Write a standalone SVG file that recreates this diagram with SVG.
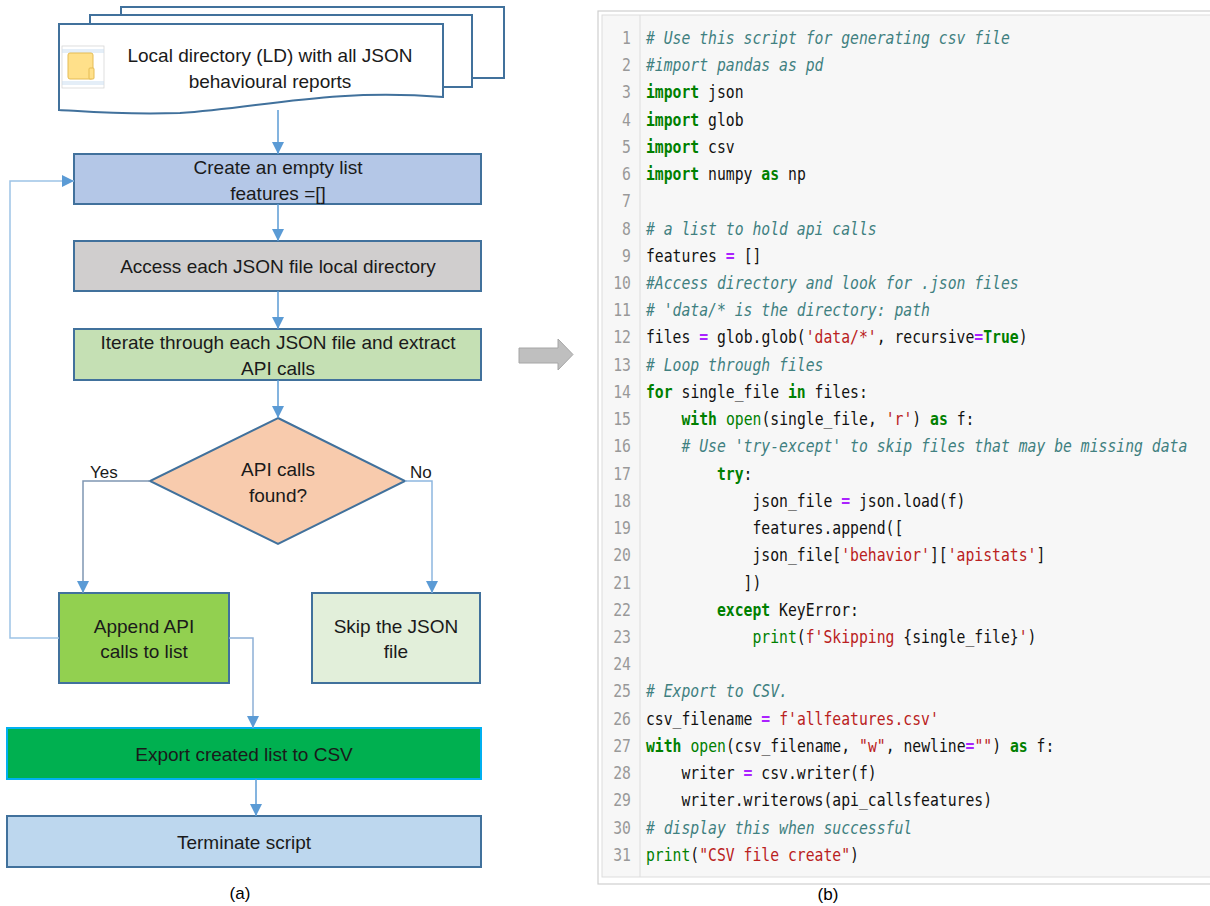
<svg xmlns="http://www.w3.org/2000/svg" width="1210" height="906" viewBox="0 0 1210 906">
<defs>
<style>
.box{stroke:#41719C;stroke-width:2}
.t{font-family:"Liberation Sans",Arial,sans-serif;font-size:19px;fill:#1a1a1a;text-anchor:middle}
.lbl{font-family:"Liberation Sans",Arial,sans-serif;font-size:17px;fill:#1a1a1a}
.cap{font-family:"Liberation Sans",Arial,sans-serif;font-size:17px;fill:#000;text-anchor:middle}
.conn{fill:none;stroke:#5B9BD5;stroke-width:1.5;marker-end:url(#ah)}
.code{font-family:"DejaVu Sans Mono","Liberation Mono",monospace;font-size:18px;fill:#111}
.ln{font-family:"DejaVu Sans Mono","Liberation Mono",monospace;font-size:18px;fill:#999;text-anchor:end}
.c{fill:#408080;font-style:italic}
.k{fill:#008000;font-weight:bold}
.b{fill:#008000}
.s{fill:#BA2121}
.o{fill:#AA22FF;font-weight:bold}
</style>
<marker id="ah" markerUnits="userSpaceOnUse" markerWidth="12" markerHeight="12" refX="12" refY="6" orient="auto">
<path d="M0,0 L12,6 L0,12 Z" fill="#5B9BD5"/>
</marker>
</defs>
<rect width="1210" height="906" fill="#fff"/>

<!-- Flowchart nodes -->
<g id="doc">
<rect x="121" y="7" width="383" height="71" fill="#fff" stroke="#41719C" stroke-width="2"/>
<rect x="90" y="15" width="382" height="72" fill="#fff" stroke="#41719C" stroke-width="2"/>
<path d="M59,24 L443,24 L443,97 C330,88 260,108 180,113 C120,115 80,111 59,110 Z" fill="#fff" stroke="#41719C" stroke-width="2"/>
<rect x="62" y="46" width="42" height="42" fill="#fff" stroke="#D6D6D6" stroke-width="0.8"/>
<path d="M62,50 H104 M62,52 H104 M62,82 H104 M62,84 H104" stroke="#C9DDF0" stroke-width="1"/>
<rect x="68" y="53" width="25" height="26" rx="2" fill="#FFE08A" stroke="#E5BC55" stroke-width="1"/>
<rect x="89" y="68" width="5" height="11" rx="1" fill="#FFE08A" stroke="#E5BC55" stroke-width="1"/>
<text class="t" x="270" y="62">Local directory (LD) with all JSON</text>
<text class="t" x="270" y="88">behavioural reports</text>
</g>
<g id="create">
<rect class="box" x="74" y="154" width="407" height="50" fill="#B4C7E7"/>
<text class="t" x="278" y="174">Create an empty list</text>
<text class="t" x="278" y="200">features =[]</text>
</g>
<g id="access">
<rect class="box" x="74" y="241" width="407" height="50" fill="#D0CECE"/>
<text class="t" x="278" y="273">Access each JSON file local directory</text>
</g>
<g id="iterate">
<rect class="box" x="74" y="329" width="407" height="51" fill="#C5E0B4"/>
<text class="t" x="278" y="349">Iterate through each JSON file and extract</text>
<text class="t" x="278" y="375">API calls</text>
</g>
<g id="decision">
<polygon class="box" points="278,418 405,481 278,544 150,481" fill="#F8CBAD"/>
<text class="t" x="278" y="476">API calls</text>
<text class="t" x="278" y="502">found?</text>
</g>
<g id="append">
<rect class="box" x="59" y="593" width="170" height="90" fill="#92D050"/>
<text class="t" x="144" y="633">Append API</text>
<text class="t" x="144" y="658">calls to list</text>
</g>
<g id="skip">
<rect class="box" x="312" y="593" width="168" height="90" fill="#E2EFDA"/>
<text class="t" x="396" y="633">Skip the JSON</text>
<text class="t" x="396" y="658">file</text>
</g>
<g id="export">
<rect x="7" y="728" width="474" height="51" fill="#00B050" stroke="#00B0F0" stroke-width="2"/>
<text class="t" x="244" y="761">Export created list to CSV</text>
</g>
<g id="terminate">
<rect class="box" x="7" y="816" width="474" height="51" fill="#BDD7EE"/>
<text class="t" x="244" y="849">Terminate script</text>
</g>

<!-- Connectors -->
<g id="connectors">
<path class="conn" d="M278,110 V154"/>
<path class="conn" d="M278,204 V241"/>
<path class="conn" d="M278,291 V329"/>
<path class="conn" d="M278,380 V418"/>
<path class="conn" d="M150,481 H83 V593" style="stroke:#7F96B2"/>
<path class="conn" d="M405,481 H432 V593" style="stroke:#8DB6E0"/>
<path class="conn" d="M59,638 H10 V181 H74" style="stroke:#9DC3E6"/>
<path class="conn" d="M229,638 H253 V728" style="stroke:#8DB0D6"/>
<path class="conn" d="M256,779 V816"/>
</g>
<g id="labels">
<text class="lbl" x="90" y="478">Yes</text>
<text class="lbl" x="410" y="478">No</text>
<text class="cap" x="240" y="899">(a)</text>
<text class="cap" x="828" y="900">(b)</text>
</g>

<!-- Gray arrow between panels -->
<g id="bigarrow">
<path d="M519,348 H558 V339 L573,354.5 L558,370 V363 H519 Z" fill="#BFBFBF" stroke="#A6A6A6" stroke-width="1"/>
</g>

<!-- Code panel -->
<g id="codepanel">
<rect x="598" y="11" width="620" height="873" fill="#fff" stroke="#CFCFCF" stroke-width="1.2"/>
<rect x="602" y="15" width="616" height="862" fill="#F7F7F7" stroke="#DDDDDD" stroke-width="1"/>
<line x1="640" y1="15" x2="640" y2="877" stroke="#DDDDDD" stroke-width="1"/>
<g transform="scale(0.82 1)">
<text class="ln" x="769.5" y="44">1</text>
<text class="ln" x="769.5" y="71.2">2</text>
<text class="ln" x="769.5" y="98.5">3</text>
<text class="ln" x="769.5" y="125.7">4</text>
<text class="ln" x="769.5" y="152.9">5</text>
<text class="ln" x="769.5" y="180.2">6</text>
<text class="ln" x="769.5" y="207.4">7</text>
<text class="ln" x="769.5" y="234.6">8</text>
<text class="ln" x="769.5" y="261.8">9</text>
<text class="ln" x="769.5" y="289.1">10</text>
<text class="ln" x="769.5" y="316.3">11</text>
<text class="ln" x="769.5" y="343.5">12</text>
<text class="ln" x="769.5" y="370.8">13</text>
<text class="ln" x="769.5" y="398.0">14</text>
<text class="ln" x="769.5" y="425.2">15</text>
<text class="ln" x="769.5" y="452.5">16</text>
<text class="ln" x="769.5" y="479.7">17</text>
<text class="ln" x="769.5" y="506.9">18</text>
<text class="ln" x="769.5" y="534.1">19</text>
<text class="ln" x="769.5" y="561.4">20</text>
<text class="ln" x="769.5" y="588.6">21</text>
<text class="ln" x="769.5" y="615.8">22</text>
<text class="ln" x="769.5" y="643.1">23</text>
<text class="ln" x="769.5" y="670.3">24</text>
<text class="ln" x="769.5" y="697.5">25</text>
<text class="ln" x="769.5" y="724.8">26</text>
<text class="ln" x="769.5" y="752.0">27</text>
<text class="ln" x="769.5" y="779.2">28</text>
<text class="ln" x="769.5" y="806.4">29</text>
<text class="ln" x="769.5" y="833.7">30</text>
<text class="ln" x="769.5" y="860.9">31</text>
<text class="code" xml:space="preserve" x="787.8" y="44"><tspan class="c"># Use this script for generating csv file</tspan></text>
<text class="code" xml:space="preserve" x="787.8" y="71.2"><tspan class="c">#import pandas as pd</tspan></text>
<text class="code" xml:space="preserve" x="787.8" y="98.5"><tspan class="k">import</tspan> json</text>
<text class="code" xml:space="preserve" x="787.8" y="125.7"><tspan class="k">import</tspan> glob</text>
<text class="code" xml:space="preserve" x="787.8" y="152.9"><tspan class="k">import</tspan> csv</text>
<text class="code" xml:space="preserve" x="787.8" y="180.2"><tspan class="k">import</tspan> numpy <tspan class="k">as</tspan> np</text>
<text class="code" xml:space="preserve" x="787.8" y="234.6"><tspan class="c"># a list to hold api calls</tspan></text>
<text class="code" xml:space="preserve" x="787.8" y="261.8">features <tspan class="o">=</tspan> []</text>
<text class="code" xml:space="preserve" x="787.8" y="289.1"><tspan class="c">#Access directory and look for .json files</tspan></text>
<text class="code" xml:space="preserve" x="787.8" y="316.3"><tspan class="c"># 'data/* is the directory: path</tspan></text>
<text class="code" xml:space="preserve" x="787.8" y="343.5">files <tspan class="o">=</tspan> glob.glob(<tspan class="s">'data/*'</tspan>, recursive<tspan class="o">=</tspan><tspan class="k">True</tspan>)</text>
<text class="code" xml:space="preserve" x="787.8" y="370.8"><tspan class="c"># Loop through files</tspan></text>
<text class="code" xml:space="preserve" x="787.8" y="398.0"><tspan class="k">for</tspan> single_file <tspan class="k">in</tspan> files:</text>
<text class="code" xml:space="preserve" x="787.8" y="425.2">    <tspan class="k">with</tspan> <tspan class="b">open</tspan>(single_file, <tspan class="s">'r'</tspan>) <tspan class="k">as</tspan> f:</text>
<text class="code" xml:space="preserve" x="787.8" y="452.5">    <tspan class="c"># Use 'try-except' to skip files that may be missing data</tspan></text>
<text class="code" xml:space="preserve" x="787.8" y="479.7">        <tspan class="k">try</tspan>:</text>
<text class="code" xml:space="preserve" x="787.8" y="506.9">            json_file <tspan class="o">=</tspan> json.load(f)</text>
<text class="code" xml:space="preserve" x="787.8" y="534.1">            features.append([</text>
<text class="code" xml:space="preserve" x="787.8" y="561.4">            json_file[<tspan class="s">'behavior'</tspan>][<tspan class="s">'apistats'</tspan>]</text>
<text class="code" xml:space="preserve" x="787.8" y="588.6">           ])</text>
<text class="code" xml:space="preserve" x="787.8" y="615.8">        <tspan class="k">except</tspan> KeyError:</text>
<text class="code" xml:space="preserve" x="787.8" y="643.1">            <tspan class="b">print</tspan>(<tspan class="s">f'Skipping </tspan>{single_file}<tspan class="s">'</tspan>)</text>
<text class="code" xml:space="preserve" x="787.8" y="697.5"><tspan class="c"># Export to CSV.</tspan></text>
<text class="code" xml:space="preserve" x="787.8" y="724.8">csv_filename <tspan class="o">=</tspan> <tspan class="s">f'allfeatures.csv'</tspan></text>
<text class="code" xml:space="preserve" x="787.8" y="752.0"><tspan class="k">with</tspan> <tspan class="b">open</tspan>(csv_filename, <tspan class="s">"w"</tspan>, newline<tspan class="o">=</tspan><tspan class="s">""</tspan>) <tspan class="k">as</tspan> f:</text>
<text class="code" xml:space="preserve" x="787.8" y="779.2">    writer <tspan class="o">=</tspan> csv.writer(f)</text>
<text class="code" xml:space="preserve" x="787.8" y="806.4">    writer.writerows(api_callsfeatures)</text>
<text class="code" xml:space="preserve" x="787.8" y="833.7"><tspan class="c"># display this when successful</tspan></text>
<text class="code" xml:space="preserve" x="787.8" y="860.9"><tspan class="b">print</tspan>(<tspan class="s">"CSV file create"</tspan>)</text>
</g>
</g>
</svg>
